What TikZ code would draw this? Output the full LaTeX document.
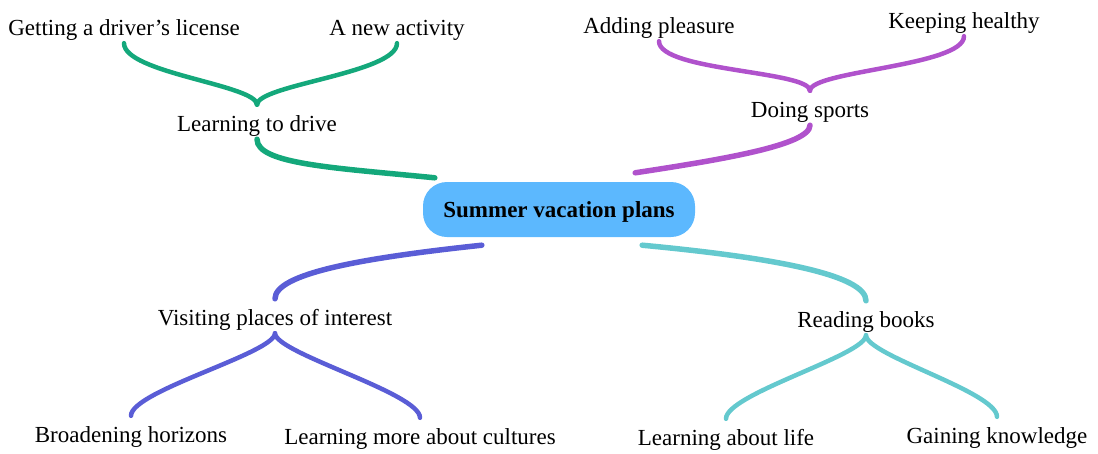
\documentclass[tikz,border=0pt]{standalone}
\usepackage{fontspec}
\setmainfont{Liberation Serif}
\usepackage{tikz}
\usetikzlibrary{positioning,backgrounds}
\definecolor{MMRoot}{HTML}{5CB8FE}
\definecolor{MMGreen}{HTML}{14A87B}
\definecolor{MMPurple}{HTML}{B052CC}
\definecolor{MMBlue}{HTML}{5A5DD6}
\definecolor{MMTeal}{HTML}{64C9CE}

\begin{document}
\begin{tikzpicture}[
    x=1pt,y=-1pt,
    topic/.style={inner xsep=0pt, inner ysep=0pt, text height=26pt, text depth=8pt, font=\fontsize{23}{27}\selectfont},
    root/.style={fill=MMRoot, rounded corners=24pt, minimum width=272pt, minimum height=55pt, text height=16pt, text depth=0pt, inner sep=0pt, font=\fontsize{23}{27}\selectfont\bfseries},
    branch/.style={line width=5.5pt, line cap=round},
    twig/.style={line width=4.5pt, line cap=round}
  ]
    \useasboundingbox (0,0) rectangle (1098,453);

    \node[root] (r) at (559,209.5) {Summer vacation plans};

    \node[topic] (drive) at (257,122) {Learning to drive};
    \node[topic] (sports) at (810,108) {Doing sports};
    \node[topic] (visit) at (275,316) {Visiting places of interest};
    \node[topic] (books) at (866,318) {Reading books};

    \node[topic] (license) at (124,26) {Getting a driver’s license};
    \node[topic] (activity) at (397,26) {A new activity};
    \node[topic] (pleasure) at (659,24) {Adding pleasure};
    \node[topic] (healthy) at (964,19) {Keeping healthy};
    \node[topic] (horizons) at (131,433) {Broadening horizons};
    \node[topic] (cultures) at (420,435) {Learning more about cultures};
    \node[topic] (life) at (726,436) {Learning about life};
    \node[topic] (knowledge) at (997,434) {Gaining knowledge};

    \begin{scope}[on background layer]
      % main branches
      \draw[branch, MMGreen] (drive.south) .. controls +(0,25) and +(-100,-10) .. ([xshift=12pt,yshift=4pt]r.north west);
      \draw[branch, MMPurple] (sports.south) .. controls +(0,20) and +(85,-13) .. ([xshift=-60pt,yshift=9pt]r.north east);
      \draw[branch, MMBlue] (visit.north) .. controls +(0,-25) and +(-122,13) .. ([xshift=59pt,yshift=-8pt]r.south west);
      \draw[branch, MMTeal] (books.north) .. controls +(0,-25) and +(138,13) .. ([xshift=-53pt,yshift=-8pt]r.south east);

      % sub-branches
      \foreach \p/\c/\col in {drive/license/MMGreen, drive/activity/MMGreen, sports/pleasure/MMPurple, sports/healthy/MMPurple}{
        \draw[twig, \col] (\p.north) .. controls +(0,-20) and +(0,30) .. (\c.south);
      }
      \foreach \p/\c/\col in {visit/horizons/MMBlue, visit/cultures/MMBlue, books/life/MMTeal, books/knowledge/MMTeal}{
        \draw[twig, \col] (\p.south) .. controls +(0,20) and +(0,-25) .. (\c.north);
      }
    \end{scope}
  \end{tikzpicture}
\end{document}
